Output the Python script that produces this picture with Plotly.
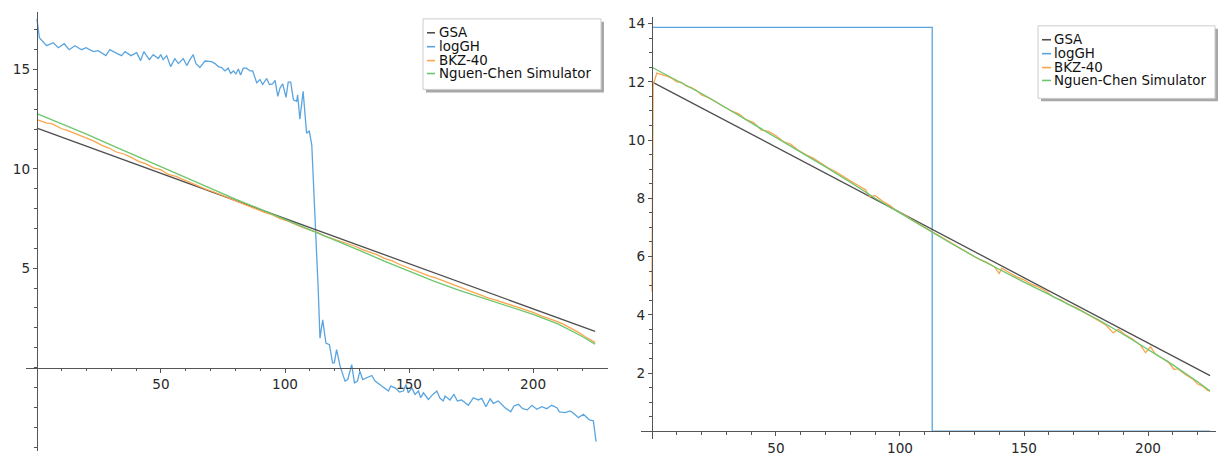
import plotly.graph_objects as go

# ---------------- data ----------------
series_names = ["GSA", "logGH", "BKZ-40", "Nguen-Chen Simulator"]
series_colors = ["#4f4f4f", "#5aa5df", "#fba54e", "#6cc66c"]

# left panel
gsa_left_x = [0, 225]
gsa_left_y = [12.05, 1.82]

loggh_left_x = [0, 1, 3.9, 6.6, 8.6, 11, 13, 15.3, 18, 19.8, 22.7, 24.7, 27.8, 29.4, 32.4, 34.1, 35.5,
                37.9, 40.2, 41.8, 43.1, 45.3, 46.9, 48.9, 49.9, 50.9, 52.3, 53.9, 55.6, 57, 59, 60.4,
                61.7, 63, 64.1, 65.7, 67.7, 70.4, 71.8, 73.1, 74.5, 75.8, 77.1, 78.1, 79.2, 80.2, 81.2,
                82.1, 83.2, 84.5, 85.9, 87, 88.6, 89.9, 91, 92.6, 93.7, 95, 96, 97.1, 98, 99.1, 100.4,
                101.3, 102.3, 103.4, 104.7, 105.1, 106, 107.3, 108.7, 109.8, 110.8, 111.7, 112.8, 113.4,
                114.1, 115.2, 116.5, 117.9, 119.2, 119.9, 120.8, 122.2, 124.2, 125.3, 126.9, 128, 129.2,
                130.2, 131.3, 132.9, 135, 136.3, 138.3, 140.3, 141.7, 142.6, 144.4, 146.1, 147.7, 148.8,
                149.7, 151.1, 152.4, 153.8, 154.7, 155.8, 157.8, 159.6, 161.2, 162.5, 163.8, 164.5, 166.5,
                168.1, 169.5, 171.2, 173.9, 175.9, 177.9, 179.3, 181, 182.7, 184, 186, 188.7, 191, 192.3,
                194.1, 195.8, 197.7, 199.5, 201.5, 203.5, 205.5, 207.5, 209.6, 210.6, 212.9, 214.9, 216.3,
                218.3, 220.3, 222.7, 224.3, 225.4]
loggh_left_y = [17.55, 16.6, 16.2, 16.35, 16.1, 16.3, 16.0, 16.2, 16.0, 16.1, 15.9, 15.95, 15.7, 16.0, 15.8,
                15.7, 15.9, 15.7, 15.85, 15.45, 15.9, 15.5, 15.75, 15.55, 15.75, 15.5, 15.7, 15.15, 15.55,
                15.3, 15.55, 15.2, 15.5, 15.75, 15.3, 15.1, 15.43, 15.4, 15.3, 15.15, 15.1, 14.93, 15.07,
                14.8, 14.93, 14.78, 15.03, 14.73, 15.07, 15.07, 14.93, 14.93, 14.33, 14.5, 14.25, 14.55,
                14.25, 14.28, 14.45, 13.65, 14.07, 14.28, 13.6, 14.37, 14.37, 13.48, 13.4, 13.73, 12.5,
                13.9, 11.8, 11.9, 11.2, 8.9, 5.6, 3.9, 1.48, 2.4, 1.23, 1.15, 0.23, 0.25, 0.9, 0.07, -0.68,
                -0.6, 0.15, -0.77, -0.68, -0.18, -0.6, -0.52, -0.4, -0.68, -0.85, -1.02, -1.18, -0.93,
                -1.02, -1.23, -1.18, -0.85, -1.27, -1.02, -1.35, -1.18, -1.52, -1.27, -1.6, -1.35, -1.18,
                -1.55, -1.68, -1.43, -1.63, -1.35, -1.68, -1.63, -1.9, -1.52, -1.63, -1.55, -1.97, -1.57,
                -1.8, -1.68, -2.02, -2.22, -1.93, -1.85, -2.07, -2.13, -1.9, -2.1, -1.97, -2.07, -1.9,
                -2.02, -2.23, -2.27, -2.18, -2.3, -2.52, -2.35, -2.63, -2.68, -3.73]

bkz_left_x = [0, 2, 4, 6, 8, 10, 12, 15, 18, 20, 23, 26, 29, 32, 35, 38, 41, 44, 47, 50, 53, 56, 59, 62,
              65, 68, 71, 74, 77, 80, 83, 86, 89, 92, 95, 98, 101, 104, 107, 110, 113, 116, 119, 122,
              125, 128, 131, 134, 137, 140, 143, 146, 149, 152, 155, 158, 161, 164, 167, 170, 173, 176,
              179, 182, 185, 188, 191, 194, 197, 200, 203, 206, 209, 212, 215, 217, 219, 221, 223, 225]
bkz_left_y = [12.48, 12.4, 12.3, 12.28, 12.15, 12.02, 11.95, 11.8, 11.62, 11.52, 11.4, 11.2, 11.05, 10.85,
              10.75, 10.58, 10.38, 10.25, 10.05, 9.95, 9.72, 9.62, 9.45, 9.3, 9.12, 8.98, 8.85, 8.7,
              8.52, 8.4, 8.25, 8.1, 7.95, 7.8, 7.68, 7.5, 7.38, 7.2, 7.05, 6.93, 6.8, 6.62, 6.5, 6.38,
              6.25, 6.12, 5.95, 5.82, 5.68, 5.5, 5.38, 5.2, 5.05, 4.92, 4.78, 4.62, 4.5, 4.35, 4.2,
              4.08, 3.92, 3.78, 3.65, 3.5, 3.4, 3.28, 3.15, 3.05, 2.92, 2.78, 2.62, 2.5, 2.35, 2.2, 2.0,
              1.85, 1.72, 1.55, 1.42, 1.27]

nc_left_x = [0, 10, 20, 30, 40, 50, 60, 70, 80, 90, 100, 110, 120, 130, 140, 150, 160, 170, 180, 190,
             200, 210, 220, 225]
nc_left_y = [12.78, 12.28, 11.75, 11.2, 10.65, 10.1, 9.55, 9.0, 8.48, 7.98, 7.47, 6.95, 6.42, 5.9, 5.36,
             4.84, 4.35, 3.9, 3.48, 3.08, 2.68, 2.2, 1.55, 1.18]

# right panel
gsa_right_x = [0, 225]
gsa_right_y = [12.0, 1.91]

loggh_right_x = [0, 113, 113, 225]
loggh_right_y = [13.87, 13.87, 0, 0]

bkz_right_x = [0, 0.5, 2, 4, 6, 8, 10, 12, 14, 16, 18, 20, 23, 26, 29, 32, 35, 38, 41, 44, 47, 50, 53, 56,
               59, 62, 65, 68, 71, 74, 77, 80, 83, 86, 88, 90, 93, 96, 99, 102, 105, 108, 111, 114, 117,
               120, 123, 126, 129, 132, 135, 138, 140, 141, 144, 147, 150, 153, 156, 159, 162, 165, 168,
               171, 174, 177, 180, 183, 186, 188, 191, 194, 197, 199, 201, 203, 206, 208, 210.5, 212,
               215, 218, 220, 222, 224, 225]
bkz_right_y = [4.8, 11.9, 12.3, 12.25, 12.2, 12.12, 12.0, 11.98, 11.85, 11.8, 11.7, 11.55, 11.45, 11.3,
               11.15, 11.0, 10.9, 10.7, 10.6, 10.35, 10.3, 10.15, 9.95, 9.85, 9.65, 9.5, 9.38, 9.2, 9.05,
               8.92, 8.75, 8.6, 8.45, 8.3, 8.05, 8.1, 7.9, 7.75, 7.55, 7.42, 7.25, 7.1, 6.95, 6.8, 6.65,
               6.5, 6.35, 6.2, 6.05, 5.9, 5.8, 5.65, 5.42, 5.6, 5.45, 5.3, 5.2, 5.05, 4.95, 4.8, 4.6, 4.5,
               4.35, 4.25, 4.1, 3.95, 3.8, 3.65, 3.38, 3.5, 3.3, 3.15, 2.95, 2.7, 2.9, 2.65, 2.5, 2.4,
               2.12, 2.15, 1.95, 1.8, 1.62, 1.55, 1.4, 1.38]

nc_right_x = [0, 10, 20, 30, 40, 50, 60, 70, 80, 90, 100, 110, 120, 130, 140, 150, 160, 170, 180, 190,
              200, 210, 220, 225]
nc_right_y = [12.5, 12.05, 11.6, 11.1, 10.6, 10.1, 9.6, 9.08, 8.55, 8.0, 7.5, 6.98, 6.48, 6.0, 5.55, 5.12,
              4.7, 4.27, 3.83, 3.33, 2.8, 2.28, 1.7, 1.38]

x_tick_vals = [50, 100, 150, 200]
y_left_tick_vals = [5, 10, 15]
y_right_tick_vals = [2, 4, 6, 8, 10, 12, 14]

# ---------------- figure ----------------
W, H = 1218, 456
FONT = "DejaVu Sans"
AXIS_COLOR = "#555555"
TEXT_COLOR = "#2a2a2a"

fig = go.Figure()

panels = [
    ("x", "y", [(gsa_left_x, gsa_left_y), (loggh_left_x, loggh_left_y),
                (bkz_left_x, bkz_left_y), (nc_left_x, nc_left_y)]),
    ("x2", "y2", [(gsa_right_x, gsa_right_y), (loggh_right_x, loggh_right_y),
                  (bkz_right_x, bkz_right_y), (nc_right_x, nc_right_y)]),
]
draw_order = [1, 0, 2, 3]
for xa, ya, series in panels:
    for i in draw_order:
        sx, sy = series[i]
        fig.add_trace(go.Scatter(x=sx, y=sy, mode="lines", name=series_names[i],
                                 line=dict(color=series_colors[i], width=1.3),
                                 xaxis=xa, yaxis=ya, showlegend=False, hoverinfo="skip"))


def px_x(p):
    return p / W


def px_y(p):
    return 1 - p / H


common = dict(showgrid=False, zeroline=False, showline=True, linecolor=AXIS_COLOR, linewidth=1.2,
              ticks="outside", ticklen=4, tickwidth=1, tickcolor=AXIS_COLOR,
              tickfont=dict(family=FONT, size=13.6, color=TEXT_COLOR), tickmode="array",
              layer="above traces")

fig.update_layout(
    width=W, height=H, margin=dict(l=0, r=0, t=0, b=0),
    paper_bgcolor="white", plot_bgcolor="white", showlegend=False,
    xaxis=dict(**common, domain=[px_x(26), px_x(608)], range=[-4.4, 230.2], anchor="free",
               position=px_y(368), tickvals=x_tick_vals,
               minor=dict(tickmode="array", tickvals=list(range(10, 230, 10)), ticklen=2.5,
                          tickcolor=AXIS_COLOR, ticks="outside")),
    yaxis=dict(**common, domain=[px_y(452), px_y(10)], range=[-4.2, 17.9], anchor="free",
               position=px_x(37), tickvals=y_left_tick_vals,
               minor=dict(tickmode="array", tickvals=list(range(-4, 18)), ticklen=2.5,
                          tickcolor=AXIS_COLOR, ticks="outside")),
    xaxis2=dict(**common, domain=[px_x(641), px_x(1216)], range=[-4.4, 227.4], anchor="free",
                position=px_y(432), tickvals=x_tick_vals,
                minor=dict(tickmode="array", tickvals=list(range(10, 230, 10)), ticklen=2.5,
                           tickcolor=AXIS_COLOR, ticks="outside")),
    yaxis2=dict(**common, domain=[px_y(440), px_y(15)], range=[-0.27, 14.23], anchor="free",
                position=px_x(652), tickvals=y_right_tick_vals,
                minor=dict(tickmode="array", tickvals=[v / 2 for v in range(0, 29)], ticklen=2.5,
                           tickcolor=AXIS_COLOR, ticks="outside")),
)

# ---------------- legends (drawn like the reference boxes) ----------------
legend_boxes = [
    dict(x0=423, x1=601, y0=17, y1=88, rows=[31, 45, 59, 72], lx0=427, lx1=435, tx=437),
    dict(x0=1038, x1=1215, y0=24, y1=97, rows=[38, 52, 66, 79], lx0=1042, lx1=1051, tx=1052),
]
shapes = []
annotations = []
for lb in legend_boxes:
    shapes.append(dict(type="rect", xref="paper", yref="paper",
                       x0=px_x(lb["x0"] + 3), x1=px_x(lb["x1"] + 3),
                       y0=px_y(lb["y1"] + 3), y1=px_y(lb["y0"] + 3),
                       fillcolor="#a8a8a8", line=dict(width=0), layer="above"))
    shapes.append(dict(type="rect", xref="paper", yref="paper",
                       x0=px_x(lb["x0"]), x1=px_x(lb["x1"]),
                       y0=px_y(lb["y1"]), y1=px_y(lb["y0"]),
                       fillcolor="white", line=dict(color="#cccccc", width=1), layer="above"))
    for name, color, ry in zip(series_names, series_colors, lb["rows"]):
        shapes.append(dict(type="line", xref="paper", yref="paper",
                           x0=px_x(lb["lx0"]), x1=px_x(lb["lx1"]), y0=px_y(ry), y1=px_y(ry),
                           line=dict(color=color, width=1.6), layer="above"))
        annotations.append(dict(xref="paper", yref="paper", x=px_x(lb["tx"]), y=px_y(ry),
                                xanchor="left", yanchor="middle", text=name, showarrow=False,
                                font=dict(family=FONT, size=13.4, color="#111111")))

fig.update_layout(shapes=shapes, annotations=annotations)

fig.write_html("out.html", config={"displayModeBar": False},
               post_script="document.body.style.margin='0';document.body.style.overflow='hidden';")
